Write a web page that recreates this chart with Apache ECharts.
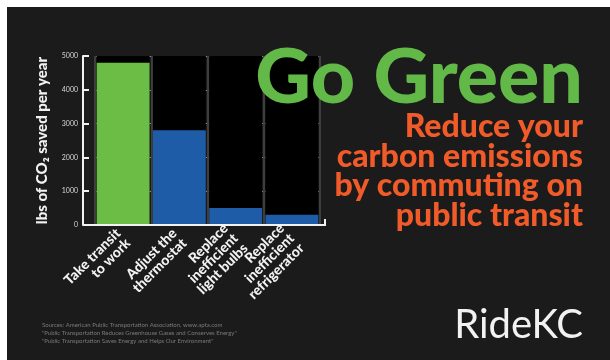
<!DOCTYPE html>
<html><head><meta charset="utf-8">
<script src="https://cdn.jsdelivr.net/npm/echarts@6/dist/echarts.min.js"></script>
<style>html,body{margin:0;padding:0;background:#1b1b1b}#c{width:610px;height:360px}</style>
</head><body><div id="c"></div>
<script>
const categories = ['Take transit\nto work', 'Adjust the\nthermostat', 'Replace\ninefficient\nlight bulbs', 'Replace\ninefficient\nrefrigerator'];
const savings = [4800, 2800, 500, 300];
const barColors = ['#6bbd46', '#1e5ca8', '#1e5ca8', '#1e5ca8'];
const yMax = 5000;
const yStep = 1000;
const headline = 'Go Green';
const subline = 'Reduce your\ncarbon emissions\nby commuting on\npublic transit';
const sources = 'Sources: American Public Transportation Association, www.apta.com\n"Public Transportation Reduces Greenhouse Gases and Conserves Energy"\n"Public Transportation Saves Energy and Helps Our Environment"';
const brand = 'RideKC';

const FONT = 'Lato, "Open Sans", sans-serif';
const chart = echarts.init(document.getElementById('c'), null, {renderer: 'canvas'});
const gridLeft = 95, gridRight = 290, gridTop = 56, gridBottom = 135;

chart.setOption({
  backgroundColor: '#1b1b1b',
  animation: false,
  title: [
    {text: headline, right: 22, top: 35, textStyle: {color: '#62b947', fontSize: 77, fontWeight: 900, fontFamily: FONT}},
    {text: sources, left: 37, top: 316, textStyle: {color: '#7a7a7a', fontSize: 6, fontWeight: 'normal', lineHeight: 8, fontFamily: FONT}},
    {text: brand, right: 22, top: 300, textStyle: {color: '#f2f2f2', fontSize: 40, fontWeight: 'normal', fontFamily: FONT}}
  ],
  grid: {left: gridLeft, right: gridRight, top: gridTop, bottom: gridBottom, containLabel: false},
  xAxis: {
    type: 'category',
    data: categories,
    axisLine: {show: false},
    axisTick: {show: false},
    splitLine: {show: true, lineStyle: {color: '#3e3e3e', width: 2}},
    axisLabel: {rotate: 45, color: '#f2f2f2', fontSize: 14, fontWeight: 900, lineHeight: 14, fontFamily: FONT, margin: 11, interval: 0}
  },
  yAxis: {
    type: 'value',
    min: 0, max: yMax, interval: yStep,
    offset: 12,
    name: 'lbs of CO\u2082 saved per year',
    nameLocation: 'middle',
    nameRotate: 90,
    nameGap: 33,
    nameTextStyle: {color: '#f2f2f2', fontSize: 15, fontWeight: 900, fontFamily: FONT},
    axisLine: {show: true, lineStyle: {color: '#f2f2f2', width: 2}},
    axisTick: {show: true, inside: true, length: 6, lineStyle: {color: '#f2f2f2', width: 2}},
    axisLabel: {color: '#d8d8d8', fontSize: 7, margin: 5, fontFamily: FONT, formatter: v => String(v)},
    splitLine: {show: true, lineStyle: {color: '#8a8a8a', width: 1}}
  },
  series: [{
    type: 'bar',
    data: savings.map((v, i) => ({value: v, itemStyle: {color: barColors[i]}})),
    barCategoryGap: '6%',
    showBackground: true,
    backgroundStyle: {color: '#000000'}
  }]
});

const p0 = chart.convertToPixel({gridIndex: 0}, [0, 0]);
const rect = chart.getModel().getComponent('grid', 0).coordinateSystem.getRect();
const yAxisX = rect.x - 12;
const xEnd = rect.x + rect.width + 5;
chart.setOption({
  graphic: [
    {type: 'polyline', z: 10, shape: {points: [[yAxisX, p0[1]], [xEnd, p0[1]], [xEnd, p0[1] - 6]]}, style: {stroke: '#f2f2f2', lineWidth: 2, fill: null}},
    {type: 'text', z: 10, x: 583, y: 112, style: {text: subline, fill: '#f15a29', font: '900 32px ' + FONT, textAlign: 'right', textVerticalAlign: 'top', lineHeight: 29.5}},
    {type: 'rect', z: 20, shape: {x: 0, y: 0, width: 610, height: 7}, style: {fill: '#ffffff'}},
    {type: 'rect', z: 20, shape: {x: 0, y: 0, width: 7, height: 360}, style: {fill: '#ffffff'}}
  ]
});
</script></body></html>
